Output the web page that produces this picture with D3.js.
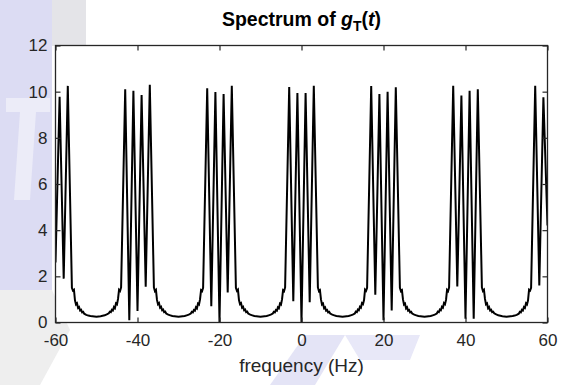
<!DOCTYPE html>
<html>
<head>
<meta charset="utf-8">
<script src="https://cdn.jsdelivr.net/npm/d3@7"></script>
<style>
  body { margin: 0; background: #ffffff; }
  svg { display: block; }
  text { font-family: "Liberation Sans", Arial, sans-serif; }
</style>
</head>
<body>
<svg id="chart" width="564" height="385"></svg>
<script>
// Axis ticks
const xTicks = [-60, -40, -20, 0, 20, 40, 60];
const yTicks = [0, 2, 4, 6, 8, 10, 12];

// Spectrum |G_T(f)| as [frequency (Hz), magnitude] pairs, one array per band
const groupM60 = [[-60, 2.6], [-59, 9.78], [-58, 1.90], [-57, 10.25]];
const tailM56 = [[-56,1.50],[-55.75,1.38],[-55.5,1.42],[-55.25,0.96],[-55,0.78],[-54.75,0.83],[-54.5,0.63],[-54.25,0.67],[-54,0.52],[-53.75,0.55],[-53.5,0.44],[-53.25,0.46],[-53,0.38],[-52.5,0.33],[-52,0.30],[-51.5,0.28],[-51,0.27],[-50.5,0.26],[-50,0.25],[-49.5,0.26],[-49,0.27],[-48.5,0.29],[-48,0.31],[-47.5,0.35],[-47,0.40],[-46.75,0.47],[-46.5,0.45],[-46.25,0.55],[-46,0.52],[-45.75,0.67],[-45.5,0.62],[-45.25,0.83],[-45,0.79],[-44.75,1.02],[-44.5,1.42],[-44.25,1.37],[-44,1.52]];
const groupM40 = [[-43,10.10],[-42,0.10],[-41,10.04],[-40,0.50],[-39,9.85],[-38,1.55],[-37,10.30]];
const tailM36 = [[-36,1.52],[-35.75,1.36],[-35.5,1.41],[-35.25,0.98],[-35,0.79],[-34.75,0.84],[-34.5,0.64],[-34.25,0.68],[-34,0.53],[-33.75,0.56],[-33.5,0.45],[-33.25,0.47],[-33,0.39],[-32.5,0.34],[-32,0.31],[-31.5,0.28],[-31,0.27],[-30.5,0.26],[-30,0.25],[-29.5,0.26],[-29,0.27],[-28.5,0.28],[-28,0.31],[-27.5,0.34],[-27,0.39],[-26.75,0.46],[-26.5,0.44],[-26.25,0.54],[-26,0.51],[-25.75,0.66],[-25.5,0.61],[-25.25,0.82],[-25,0.78],[-24.75,1.00],[-24.5,1.40],[-24.25,1.36],[-24,1.50]];
const groupM20 = [[-23,10.15],[-22,0.70],[-21,9.98],[-20,0.00],[-19,9.90],[-18,1.30],[-17,10.26]];
const tailM16 = [[-16,1.50],[-15.75,1.37],[-15.5,1.42],[-15.25,0.97],[-15,0.80],[-14.75,0.84],[-14.5,0.64],[-14.25,0.68],[-14,0.53],[-13.75,0.56],[-13.5,0.45],[-13.25,0.47],[-13,0.39],[-12.5,0.34],[-12,0.31],[-11.5,0.28],[-11,0.27],[-10.5,0.26],[-10,0.25],[-9.5,0.26],[-9,0.27],[-8.5,0.28],[-8,0.31],[-7.5,0.34],[-7,0.39],[-6.75,0.46],[-6.5,0.44],[-6.25,0.54],[-6,0.51],[-5.75,0.66],[-5.5,0.62],[-5.25,0.82],[-5,0.78],[-4.75,1.00],[-4.5,1.40],[-4.25,1.36],[-4,1.52]];
const group0 = [[-3,10.20],[-2,0.92],[-1,9.94],[0,0.00],[1,9.94],[2,0.88],[3,10.26]];
const tail4 = [[4,1.52],[4.25,1.36],[4.5,1.40],[4.75,1.00],[5,0.78],[5.25,0.82],[5.5,0.62],[5.75,0.66],[6,0.51],[6.25,0.54],[6.5,0.44],[6.75,0.46],[7,0.39],[7.5,0.34],[8,0.31],[8.5,0.28],[9,0.27],[9.5,0.26],[10,0.25],[10.5,0.26],[11,0.27],[11.5,0.28],[12,0.31],[12.5,0.34],[13,0.39],[13.25,0.47],[13.5,0.45],[13.75,0.56],[14,0.53],[14.25,0.68],[14.5,0.64],[14.75,0.84],[15,0.80],[15.25,0.97],[15.5,1.42],[15.75,1.37],[16,1.50]];
const group20 = [[17,10.25],[18,1.20],[19,9.90],[20,0.10],[21,10.00],[22,0.52],[23,10.19]];
const tail24 = [[24,1.50],[24.25,1.36],[24.5,1.40],[24.75,1.00],[25,0.78],[25.25,0.82],[25.5,0.61],[25.75,0.66],[26,0.51],[26.25,0.54],[26.5,0.44],[26.75,0.46],[27,0.39],[27.5,0.34],[28,0.31],[28.5,0.28],[29,0.27],[29.5,0.26],[30,0.25],[30.5,0.26],[31,0.27],[31.5,0.28],[32,0.31],[32.5,0.34],[33,0.39],[33.25,0.47],[33.5,0.45],[33.75,0.56],[34,0.53],[34.25,0.68],[34.5,0.64],[34.75,0.84],[35,0.79],[35.25,0.98],[35.5,1.41],[35.75,1.36],[36,1.52]];
const group40 = [[37,10.26],[38,1.56],[39,9.83],[40,0.16],[41,10.04],[42,0.16],[43,10.10]];
const tail44 = [[44,1.52],[44.25,1.37],[44.5,1.42],[44.75,1.02],[45,0.79],[45.25,0.83],[45.5,0.62],[45.75,0.67],[46,0.52],[46.25,0.55],[46.5,0.45],[46.75,0.47],[47,0.40],[47.5,0.35],[48,0.31],[48.5,0.29],[49,0.27],[49.5,0.26],[50,0.25],[50.5,0.26],[51,0.27],[51.5,0.28],[52,0.30],[52.5,0.33],[53,0.38],[53.25,0.46],[53.5,0.44],[53.75,0.55],[54,0.52],[54.25,0.67],[54.5,0.63],[54.75,0.83],[55,0.78],[55.25,0.96],[55.5,1.42],[55.75,1.38],[56,1.50]];
const group60 = [[57,10.26],[58,1.60],[59,9.76],[60,4.20]];

const spectrum = [].concat(groupM60, tailM56, groupM40, tailM36, groupM20, tailM16,
                           group0, tail4, group20, tail24, group40, tail44, group60);

const svg = d3.select("#chart");
const plot = { left: 55.5, right: 547.5, top: 45.5, bottom: 322.5 };
const axisColor = "#262626";

// faint background watermark shapes
const bg = svg.append("g");
bg.append("rect").attr("x", 0).attr("y", 0).attr("width", 52).attr("height", 290).attr("fill", "#dcdcf3");
bg.append("rect").attr("x", 52).attr("y", 0).attr("width", 34).attr("height", 46).attr("fill", "#e4e4e8");
bg.append("path").attr("d", "M6,98 L50,98 L50,112 L36,112 L30,200 L14,200 L20,112 L6,112 Z").attr("fill", "#ececf8");
bg.append("path").attr("d", "M0,290 L52,290 L70,330 L40,385 L0,385 Z").attr("fill", "#eeeeee");
bg.append("path").attr("d", "M270,385 L305,335 L345,335 L315,385 Z").attr("fill", "#e4e4f6");
bg.append("path").attr("d", "M345,335 L420,335 L410,360 L360,360 Z").attr("fill", "#e8e8f8");

const x = d3.scaleLinear().domain([-60, 60]).range([plot.left, plot.right]);
const y = d3.scaleLinear().domain([0, 12]).range([plot.bottom, plot.top]);

// axes background
svg.append("rect")
  .attr("x", plot.left).attr("y", plot.top)
  .attr("width", plot.right - plot.left).attr("height", plot.bottom - plot.top)
  .attr("fill", "#ffffff");

svg.append("clipPath").attr("id", "clip")
  .append("rect")
  .attr("x", plot.left).attr("y", plot.top)
  .attr("width", plot.right - plot.left).attr("height", plot.bottom - plot.top);

// spectrum line
const line = d3.line().x(d => x(d[0])).y(d => y(d[1]));
svg.append("path")
  .datum(spectrum)
  .attr("clip-path", "url(#clip)")
  .attr("fill", "none")
  .attr("stroke", "#000000")
  .attr("stroke-width", 2)
  .attr("stroke-linejoin", "miter")
  .attr("stroke-miterlimit", 10)
  .attr("d", line);

const fmt = d => String(d); // plain hyphen-minus, as MATLAB prints it

function styleAxis(g, showLabels) {
  g.select(".domain").remove();
  g.selectAll(".tick line").attr("stroke", axisColor).attr("stroke-width", 1.2);
  g.selectAll(".tick text")
    .attr("fill", axisColor)
    .attr("font-size", 17)
    .attr("font-family", "Liberation Sans, Arial, sans-serif");
  if (!showLabels) g.selectAll(".tick text").remove();
}

svg.append("g").attr("transform", `translate(0,${plot.bottom})`)
  .call(d3.axisBottom(x).tickValues(xTicks).tickFormat(fmt).tickSizeInner(-5).tickSizeOuter(0).tickPadding(11))
  .call(g => styleAxis(g, true));
svg.append("g").attr("transform", `translate(0,${plot.top})`)
  .call(d3.axisTop(x).tickValues(xTicks).tickSizeInner(-5).tickSizeOuter(0))
  .call(g => styleAxis(g, false));
svg.append("g").attr("transform", `translate(${plot.left},0)`)
  .call(d3.axisLeft(y).tickValues(yTicks).tickFormat(fmt).tickSizeInner(-5).tickSizeOuter(0).tickPadding(8))
  .call(g => styleAxis(g, true));
svg.append("g").attr("transform", `translate(${plot.right},0)`)
  .call(d3.axisRight(y).tickValues(yTicks).tickSizeInner(-5).tickSizeOuter(0))
  .call(g => styleAxis(g, false));

// axes box
svg.append("rect")
  .attr("x", plot.left).attr("y", plot.top)
  .attr("width", plot.right - plot.left).attr("height", plot.bottom - plot.top)
  .attr("fill", "none")
  .attr("stroke", axisColor)
  .attr("stroke-width", 1.3);

// x-axis label
svg.append("text")
  .attr("x", (plot.left + plot.right) / 2).attr("y", 372)
  .attr("text-anchor", "middle")
  .attr("font-size", 19)
  .attr("fill", axisColor)
  .text("frequency (Hz)");

// title with italic variable and subscript
const title = svg.append("text")
  .attr("x", (plot.left + plot.right) / 2).attr("y", 26)
  .attr("text-anchor", "middle")
  .attr("font-size", 19.5)
  .attr("font-weight", "bold")
  .attr("fill", "#000000");
title.append("tspan").text("Spectrum of ");
title.append("tspan").attr("font-style", "italic").text("g");
title.append("tspan").attr("font-size", 14).attr("dy", 5).text("T");
title.append("tspan").attr("dy", -5).text("(");
title.append("tspan").attr("font-style", "italic").text("t");
title.append("tspan").text(")");
</script>
</body>
</html>
